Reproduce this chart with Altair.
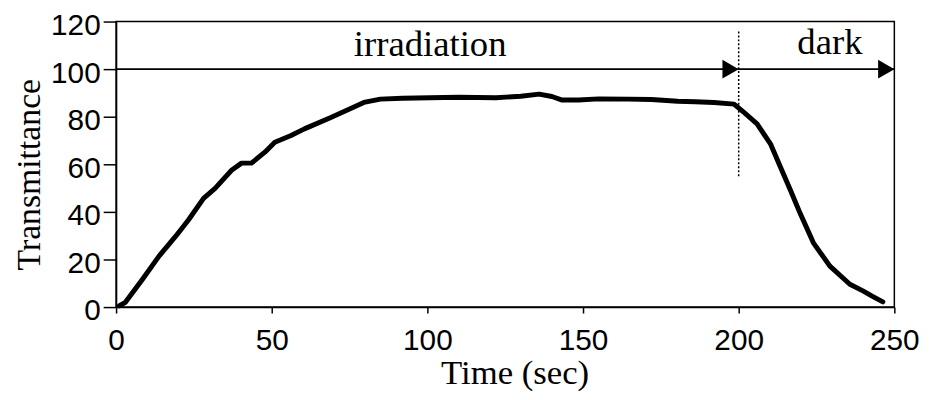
import altair as alt
import pandas as pd

# Curve
time_s = [1.0, 3.0, 8.5, 13.8, 19.1, 23.3, 28.1, 31.8, 37.1, 40.3, 43.5, 47.8, 51.0,
          56.2, 60.5, 69.0, 79.6, 84.9, 92.0, 100.8, 110.0, 122.0, 130.0, 135.9,
          140.0, 143.3, 148.6, 155.0, 164.5, 172.0, 180.4, 186.0, 192.1, 198.5,
          201.7, 205.9, 210.2, 213.4, 216.6, 219.7, 224.0, 229.3, 235.7, 239.9,
          243.0, 246.3]
transmittance = [0.5, 2.0, 11.7, 21.4, 29.7, 36.7, 45.7, 49.9, 57.5, 60.5, 60.5, 65.1,
                 69.3, 72.1, 74.9, 79.7, 86.0, 87.4, 87.8, 88.0, 88.2, 88.0, 88.6, 89.5,
                 88.5, 87.0, 87.0, 87.5, 87.4, 87.2, 86.5, 86.3, 86.0, 85.3, 81.8, 77.0,
                 68.6, 58.9, 49.2, 39.5, 27.0, 17.2, 9.6, 6.8, 4.5, 2.2]

# Annotations
phase_line_x1 = [0]
phase_line_x2 = [250]
phase_line_y = [100]
arrow_x = [197.4, 247.4]
arrow_y = [100, 100]
phase_labels = ["irradiation", "dark"]
phase_label_x = [100.9, 229.3]
phase_label_y = [105.4, 106.3]
boundary_x = [200]
boundary_y1 = [55]
boundary_y2 = [116]

x_ticks = [0, 50, 100, 150, 200, 250]
y_ticks = [0, 20, 40, 60, 80, 100, 120]

curve_df = pd.DataFrame({"t": time_s, "T": transmittance})
hline_df = pd.DataFrame({"t": phase_line_x1, "t2": phase_line_x2, "T": phase_line_y})
arrow_df = pd.DataFrame({"t": arrow_x, "T": arrow_y})
label_df = pd.DataFrame({"t": phase_label_x, "T": phase_label_y, "text": phase_labels})
vline_df = pd.DataFrame({"t": boundary_x, "T": boundary_y1, "T2": boundary_y2})

xs = alt.Scale(domain=[0, 250], nice=False, zero=False)
ys = alt.Scale(domain=[0, 120], nice=False, zero=False)

common_axis = dict(grid=False, domainColor="black", tickColor="black",
                   labelColor="black", titleColor="black",
                   labelFont="Liberation Sans", labelFontSize=30,
                   titleFont="Liberation Serif",
                   titleFontWeight="normal", domainWidth=1.5, tickWidth=1.5,
                   labelFlush=False, labelOverlap=False)

xaxis = alt.Axis(values=x_ticks, title="Time (sec)", tickSize=6, labelPadding=13,
                 titlePadding=0, titleX=402, titleFontSize=35, **common_axis)
yaxis = alt.Axis(values=y_ticks, title="Transmittance", tickSize=13, labelPadding=3,
                 labelOffset=4, titlePadding=4, titleY=154, titleFontSize=34,
                 **common_axis)

X = alt.X("t:Q", scale=xs, axis=xaxis)
Y = alt.Y("T:Q", scale=ys, axis=yaxis)

curve = alt.Chart(curve_df).mark_line(color="black", strokeWidth=5, strokeCap="round",
                                      strokeJoin="round").encode(x=X, y=Y)

hline = alt.Chart(hline_df).mark_rule(color="black", strokeWidth=2).encode(
    x=X, x2="t2:Q", y=Y)

arrows = alt.Chart(arrow_df).mark_point(shape="triangle-right", filled=True, color="black",
                                        size=360, opacity=1).encode(x=X, y=Y)

vline = alt.Chart(vline_df).mark_rule(color="black", strokeWidth=1.5,
                                      strokeDash=[2, 2]).encode(x=X, y=Y, y2="T2:Q")

labels = alt.Chart(label_df).mark_text(font="Liberation Serif", fontSize=37,
                                       baseline="alphabetic", align="center",
                                       color="black").encode(x=X, y=Y, text="text:N")

chart = alt.layer(curve, hline, vline, arrows, labels).properties(
    width=785, height=288,
    autosize=alt.AutoSizeParams(type="none"),
    padding={"left": 109, "top": 12, "right": 40, "bottom": 84},
    background="white",
).configure_view(stroke="black", strokeWidth=1.5)

chart.save("out.html", embed_options={"renderer": "svg", "actions": False})
